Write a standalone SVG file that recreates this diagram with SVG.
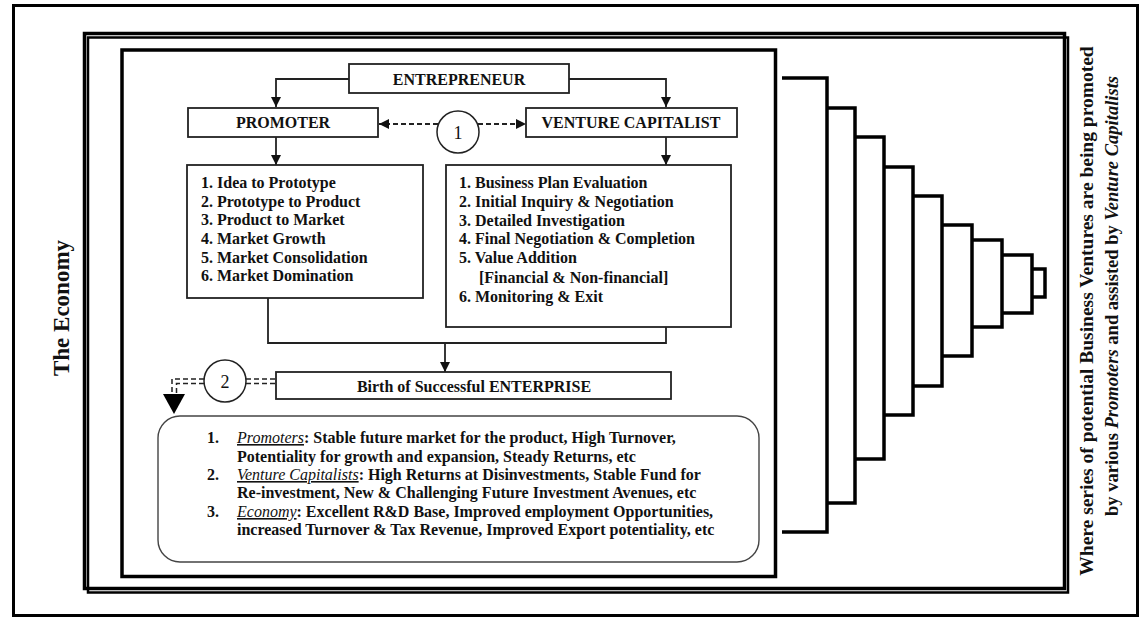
<svg xmlns="http://www.w3.org/2000/svg" width="1144" height="620" viewBox="0 0 1144 620">
<style>
.t{font-family:"Liberation Serif","Times New Roman",serif;font-weight:bold;font-size:16px;fill:#111}
.big{font-size:23px}
.side{font-size:19.5px}
.num{font-size:18px;font-weight:normal}
.n{font-weight:normal}
.i{font-style:italic}
.u{text-decoration:underline}
.box{fill:#fff;stroke:#222;stroke-width:1.8}
.conn{fill:none;stroke:#222;stroke-width:1.8}
.dash{stroke-dasharray:5 3}
.dbl{fill:none;stroke:#222;stroke-width:1.5;stroke-dasharray:5 3}
.frame{fill:none;stroke:#000}
.step{fill:none;stroke:#000;stroke-width:3.5}
</style>
<defs>
<marker id="ah" viewBox="0 0 10 10" refX="10" refY="5" markerWidth="10" markerHeight="10" markerUnits="userSpaceOnUse" orient="auto">
<path d="M0,0 L10,5 L0,10 z" fill="#111"/>
</marker>
</defs>
<rect width="1144" height="620" fill="#fff"/>

<g id="frames">
<rect class="frame" x="13.5" y="5.5" width="1124" height="610" stroke-width="3"/>
<rect class="frame" x="88" y="37.5" width="980" height="555" stroke-width="2.5" stroke="#333"/>
<rect class="frame" x="84.5" y="33.5" width="980" height="555" stroke-width="3.5"/>
<rect class="frame" x="122" y="50" width="653.5" height="526.5" stroke-width="3.5"/>
</g>

<g id="staircase">
<polyline class="step" points="782,78 827,78 827,532 782,532"/>
<polyline class="step" points="827,108 855,108 855,503 827,503"/>
<polyline class="step" points="855,137 884,137 884,459 855,459"/>
<polyline class="step" points="884,167 913,167 913,415 884,415"/>
<polyline class="step" points="913,196 942,196 942,386 913,386"/>
<polyline class="step" points="942,225 972,225 972,356 942,356"/>
<polyline class="step" points="972,240 1002,240 1002,327 972,327"/>
<polyline class="step" points="1002,255 1032,255 1032,313 1002,313"/>
<polyline class="step" points="1032,269 1045,269 1045,297 1032,297"/>
</g>

<g id="economy-label">
<text class="t big" transform="translate(69,308) rotate(-90)" text-anchor="middle">The Economy</text>
</g>

<g id="side-label">
<text class="t side" transform="translate(1093,311) rotate(-90)" text-anchor="middle">Where series of potential Business Ventures are being promoted</text>
<text class="t side" transform="translate(1118,296) rotate(-90)" text-anchor="middle" textLength="440" lengthAdjust="spacingAndGlyphs">by various <tspan class="i">Promoters</tspan> and assisted by <tspan class="i">Venture Capitalists</tspan></text>
</g>

<g id="connectors">
<path class="conn" d="M349,79 H276 V107" marker-end="url(#ah)"/>
<path class="conn" d="M569,79 H666 V107" marker-end="url(#ah)"/>
<path class="conn" d="M276,137 V165" marker-end="url(#ah)"/>
<path class="conn" d="M666,137 V165" marker-end="url(#ah)"/>
<path class="conn dash" d="M438,124 H379" marker-end="url(#ah)"/>
<path class="conn dash" d="M478,124 H526" marker-end="url(#ah)"/>
<path class="conn" d="M268,298 V343 H666 V327"/>
<path class="conn" d="M445,343 V372" marker-end="url(#ah)"/>
<path class="dbl" d="M246,379 H276 M246,383.5 H276"/>
<path class="dbl" d="M204,379 H172 V394 M204,383.5 H176.5 V394"/>
<path d="M163,394 L185,394 L174,414 z" fill="#000"/>
</g>

<g id="entrepreneur">
<rect class="box" x="349" y="64" width="220" height="29"/>
<text class="t" x="459" y="85" text-anchor="middle">ENTREPRENEUR</text>
</g>

<g id="promoter">
<rect class="box" x="188" y="108" width="190" height="29"/>
<text class="t" x="283" y="128" text-anchor="middle">PROMOTER</text>
</g>

<g id="venture-capitalist">
<rect class="box" x="526" y="108" width="211" height="29"/>
<text class="t" x="631" y="128" text-anchor="middle">VENTURE CAPITALIST</text>
</g>

<g id="circle-1">
<circle cx="458" cy="132" r="21" fill="#fff" stroke="#222" stroke-width="1.5"/>
<text class="t num" x="458" y="138.5" text-anchor="middle">1</text>
</g>

<g id="promoter-steps">
<rect class="box" x="187" y="165" width="236" height="133"/>
<text class="t" x="201" y="188">1. Idea to Prototype</text>
<text class="t" x="201" y="207">2. Prototype to Product</text>
<text class="t" x="201" y="225">3. Product to Market</text>
<text class="t" x="201" y="244">4. Market Growth</text>
<text class="t" x="201" y="263">5. Market Consolidation</text>
<text class="t" x="201" y="281">6. Market Domination</text>
</g>

<g id="vc-steps">
<rect class="box" x="446" y="165" width="285" height="162"/>
<text class="t" x="459" y="188">1. Business Plan Evaluation</text>
<text class="t" x="459" y="207">2. Initial Inquiry &amp; Negotiation</text>
<text class="t" x="459" y="226">3. Detailed Investigation</text>
<text class="t" x="459" y="244">4. Final Negotiation &amp; Completion</text>
<text class="t" x="459" y="263">5. Value Addition</text>
<text class="t" x="479" y="283">[Financial &amp; Non-financial]</text>
<text class="t" x="459" y="302">6. Monitoring &amp; Exit</text>
</g>

<g id="circle-2">
<circle cx="225" cy="381" r="21" fill="#fff" stroke="#222" stroke-width="1.5"/>
<text class="t num" x="225" y="387.5" text-anchor="middle">2</text>
</g>

<g id="enterprise">
<rect class="box" x="276" y="372" width="395" height="27"/>
<text class="t" x="474" y="392" text-anchor="middle">Birth of Successful ENTERPRISE</text>
</g>

<g id="benefits">
<rect x="158" y="416" width="601" height="146" rx="22" fill="#fff" stroke="#444" stroke-width="1.4"/>
<text class="t" x="207" y="443">1.</text>
<text class="t" x="237" y="443"><tspan class="i n u">Promoters</tspan>: Stable future market for the product, High Turnover,</text>
<text class="t" x="237" y="462">Potentiality for growth and expansion, Steady Returns, etc</text>
<text class="t" x="207" y="480">2.</text>
<text class="t" x="237" y="480"><tspan class="i n u">Venture Capitalists</tspan>: High Returns at Disinvestments, Stable Fund for</text>
<text class="t" x="237" y="498">Re-investment, New &amp; Challenging Future Investment Avenues, etc</text>
<text class="t" x="207" y="517">3.</text>
<text class="t" x="237" y="517"><tspan class="i n u">Economy</tspan>: Excellent R&amp;D Base, Improved employment Opportunities,</text>
<text class="t" x="237" y="535">increased Turnover &amp; Tax Revenue, Improved Export potentiality, etc</text>
</g>
</svg>
